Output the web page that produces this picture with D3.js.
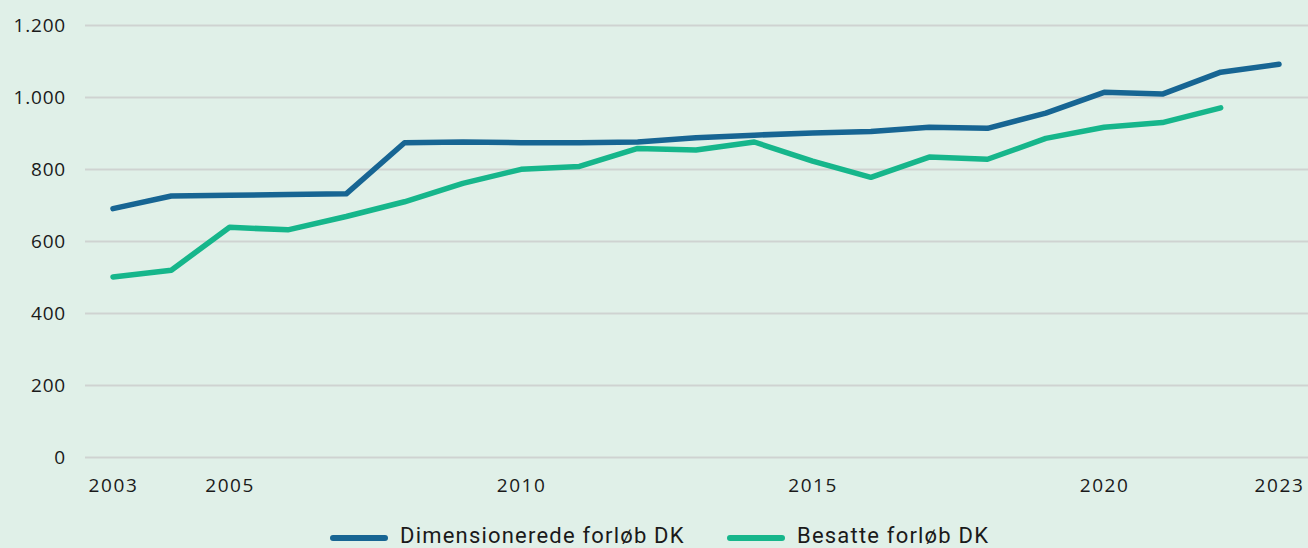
<!DOCTYPE html>
<html><head><meta charset="utf-8">
<script src="https://cdn.jsdelivr.net/npm/d3@7"></script>
<style>
html,body{margin:0;padding:0;background:#e0f0e8;}
svg{display:block;}
</style></head>
<body>
<svg id="c" width="1308" height="548"></svg>
<script>
const years = d3.range(2003, 2024);
const dimensionerede = [690,725,727,729,731,873,875,873,873,875,887,894,900,904,916,913,955,1013,1008,1069,1091];
const besatte = [500,519,638,631,668,709,760,799,807,857,853,875,822,777,833,827,885,916,929,970,null];
const yTicks = [0,200,400,600,800,1000,1200];
const xTicks = [2003,2005,2010,2015,2020,2023];
const seriesNames = ["Dimensionerede forløb DK","Besatte forløb DK"];
const colors = ["#176593","#16b68b"];

const svg = d3.select("#c");
svg.append("rect").attr("width",1308).attr("height",548).attr("fill","#e0f0e8");

const x = d3.scaleLinear().domain([2003,2023]).range([113,1279]);
const y = d3.scaleLinear().domain([0,1200]).range([457,25]);
const fmt = v => d3.format(",")(v).replace(/,/g,".");

// grid
const yAxis = d3.axisLeft(y).tickValues(yTicks).tickSize(-(1308-85)).tickFormat(fmt).tickPadding(19);
const gy = svg.append("g").attr("transform","translate(85,0)").call(yAxis);
gy.select(".domain").remove();
gy.selectAll(".tick line").attr("stroke","#cfd3d1").attr("stroke-width",2);
gy.selectAll(".tick text").attr("fill","#1a1a1a").style("font-family","'Open Sans', sans-serif")
  .style("font-size","19px").style("letter-spacing","0.8px");

const xAxis = d3.axisBottom(x).tickValues(xTicks).tickSize(0).tickFormat(d3.format("d")).tickPadding(22);
const gx = svg.append("g").attr("transform","translate(0,457)").call(xAxis);
gx.select(".domain").remove();
gx.selectAll(".tick text").attr("fill","#1a1a1a").style("font-family","'Open Sans', sans-serif")
  .style("font-size","19px").style("letter-spacing","1.6px");

const line = d3.line().defined(d => d[1] != null).x(d => x(d[0])).y(d => y(d[1]));
[dimensionerede, besatte].forEach((s,i) => {
  svg.append("path").datum(years.map((yr,j)=>[yr,s[j]]))
    .attr("d",line).attr("fill","none").attr("stroke",colors[i])
    .attr("stroke-width",5.5).attr("stroke-linecap","round").attr("stroke-linejoin","round");
});

// legend
const legendX = [333, 730];
seriesNames.forEach((n,i) => {
  const g = svg.append("g").attr("transform",`translate(${legendX[i]},535)`);
  g.append("line").attr("x1",0).attr("x2",52).attr("y1",3).attr("y2",3)
    .attr("stroke",colors[i]).attr("stroke-width",6).attr("stroke-linecap","round");
  g.append("text").attr("x",67).attr("y",0).attr("dy","0.35em").text(n)
    .attr("fill","#1a1a1a").style("font-family","Roboto, sans-serif").style("font-size","22px")
    .style("letter-spacing","1.2px");
});
</script>
</body></html>
